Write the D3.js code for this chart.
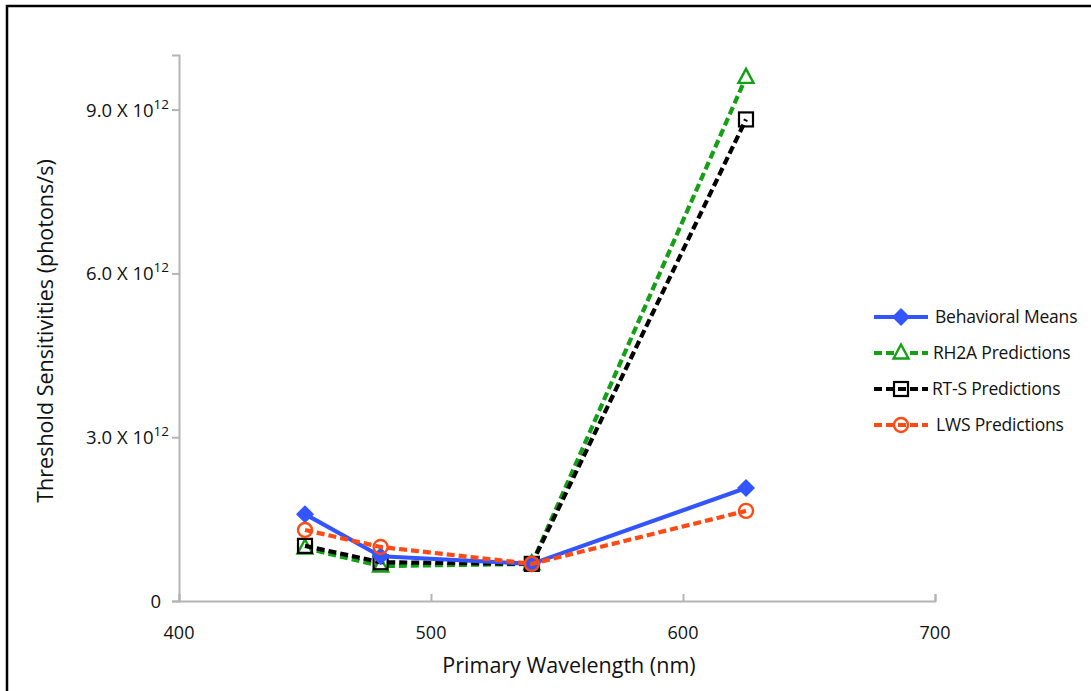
<!DOCTYPE html>
<html>
<head>
<meta charset="utf-8">
<script src="https://cdn.jsdelivr.net/npm/d3@7"></script>
<style>
  html, body { margin: 0; padding: 0; background: #fff; }
  svg { display: block; font-family: "Open Sans", "Noto Sans", sans-serif; }
</style>
</head>
<body>
<svg id="chart" width="1091" height="691"></svg>
<script>
// Wavelengths tested (nm)
const wavelengths = [450, 480, 540, 625];

// Threshold sensitivities (photons/s)
const behavioralMeans = [1.59e12, 0.82e12, 0.68e12, 2.07e12];
const rh2aPredictions = [0.97e12, 0.64e12, 0.68e12, 9.59e12];
const rtsPredictions  = [1.01e12, 0.71e12, 0.68e12, 8.82e12];
const lwsPredictions  = [1.30e12, 0.99e12, 0.68e12, 1.65e12];

const xTicks = [400, 500, 600, 700];
const yTicks = [0, 3e12, 6e12, 9e12];
const yTickMantissa = ["0", "3.0", "6.0", "9.0"];

const seriesNames = ["Behavioral Means", "RH2A Predictions", "RT-S Predictions", "LWS Predictions"];

const series = [
  { name: seriesNames[0], values: behavioralMeans, color: "#3355ff", dash: null,  marker: "diamond" },
  { name: seriesNames[1], values: rh2aPredictions, color: "#14a014", dash: "8,4", marker: "triangle" },
  { name: seriesNames[2], values: rtsPredictions,  color: "#000000", dash: "8,4", marker: "square" },
  { name: seriesNames[3], values: lwsPredictions,  color: "#ff4a14", dash: "8,4", marker: "circle" }
];

const svg = d3.select("#chart");

// frame around the figure
svg.append("path")
  .attr("d", "M7,700 L7,6 L1100,6")
  .attr("fill", "none").attr("stroke", "#000").attr("stroke-width", 2.5);

const x = d3.scaleLinear().domain([400, 700]).range([179, 935]);
const y = d3.scaleLinear().domain([0, 1e13]).range([601, 55]);

const axisColor = "#b4b4b4";

// y axis
const yAxis = svg.append("g").attr("transform", "translate(179,0)")
  .call(d3.axisLeft(y).tickValues(yTicks).tickSize(7).tickFormat(""));
yAxis.select(".domain").attr("stroke", axisColor).attr("stroke-width", 2);
yAxis.selectAll(".tick line").attr("stroke", axisColor).attr("stroke-width", 2);

// y tick labels with scientific notation
yTicks.forEach((v, i) => {
  const t = svg.append("text")
    .attr("x", 169).attr("y", y(v) + 7)
    .attr("text-anchor", "end")
    .attr("font-size", 18.5).attr("fill", "#111");
  if (v === 0) {
    t.attr("x", 161).text(yTickMantissa[i]);
  } else {
    t.append("tspan").text(yTickMantissa[i] + " X 10");
    t.append("tspan").attr("font-size", 13.5).attr("dy", -8).text("12");
  }
});

// x axis (ticks point into the plot)
const xAxis = svg.append("g").attr("transform", "translate(0,601)")
  .call(d3.axisBottom(x).tickValues(xTicks).tickSize(-7).tickFormat(""));
xAxis.select(".domain").attr("stroke", axisColor).attr("stroke-width", 2);
xAxis.selectAll(".tick line").attr("stroke", axisColor).attr("stroke-width", 2);

xTicks.forEach(v => {
  svg.append("text")
    .attr("x", x(v)).attr("y", 639)
    .attr("text-anchor", "middle")
    .attr("font-size", 18).attr("fill", "#111")
    .text(v);
});

// axis titles
svg.append("text")
  .attr("x", 569).attr("y", 673)
  .attr("text-anchor", "middle")
  .attr("font-size", 21.5).attr("fill", "#111")
  .text("Primary Wavelength (nm)");

svg.append("text")
  .attr("transform", "translate(53,331) rotate(-90)")
  .attr("text-anchor", "middle")
  .attr("font-size", 21.5).attr("fill", "#111")
  .text("Threshold Sensitivities (photons/s)");

function drawMarker(g, type, cx, cy, color) {
  if (type === "diamond") {
    g.append("path").attr("d", "M0,-9 L9,0 L0,9 L-9,0 Z")
      .attr("transform", `translate(${cx},${cy})`)
      .attr("fill", color);
  } else if (type === "triangle") {
    g.append("path").attr("d", "M0,-8.5 L7.5,5.5 L-7.5,5.5 Z")
      .attr("transform", `translate(${cx},${cy})`)
      .attr("fill", "#fff").attr("stroke", color).attr("stroke-width", 2.4);
  } else if (type === "square") {
    g.append("rect").attr("x", cx - 7).attr("y", cy - 7)
      .attr("width", 14).attr("height", 14)
      .attr("fill", "none").attr("stroke", color).attr("stroke-width", 2.2);
  } else if (type === "circle") {
    g.append("circle").attr("cx", cx).attr("cy", cy).attr("r", 7)
      .attr("fill", "none").attr("stroke", color).attr("stroke-width", 2.4);
  }
}

const line = d3.line().x((d, i) => x(wavelengths[i])).y(d => y(d));

// draw series so that earlier ones sit on top at shared points
const drawOrder = [1, 2, 0, 3];
drawOrder.forEach(k => {
  const s = series[k];
  const g = svg.append("g");
  g.append("path").datum(s.values)
    .attr("d", line)
    .attr("fill", "none")
    .attr("stroke", s.color)
    .attr("stroke-width", 4.2)
    .attr("stroke-dasharray", s.dash)
    .attr("stroke-linejoin", "round");
  s.values.forEach((v, i) => drawMarker(g, s.marker, x(wavelengths[i]), y(v), s.color));
});

// legend
const legendY = [317, 353, 389, 425];
const legendTextX = [935, 933, 932, 936];
series.forEach((s, i) => {
  const g = svg.append("g");
  g.append("line")
    .attr("x1", 874).attr("x2", 928)
    .attr("y1", legendY[i]).attr("y2", legendY[i])
    .attr("stroke", s.color).attr("stroke-width", 4)
    .attr("stroke-dasharray", s.dash);
  drawMarker(g, s.marker, 901, legendY[i], s.color);
  g.append("text")
    .attr("x", legendTextX[i]).attr("y", legendY[i] + 6)
    .attr("font-size", 17.5).attr("fill", "#111")
    .attr("letter-spacing", -0.2)
    .text(s.name);
});
</script>
</body>
</html>
